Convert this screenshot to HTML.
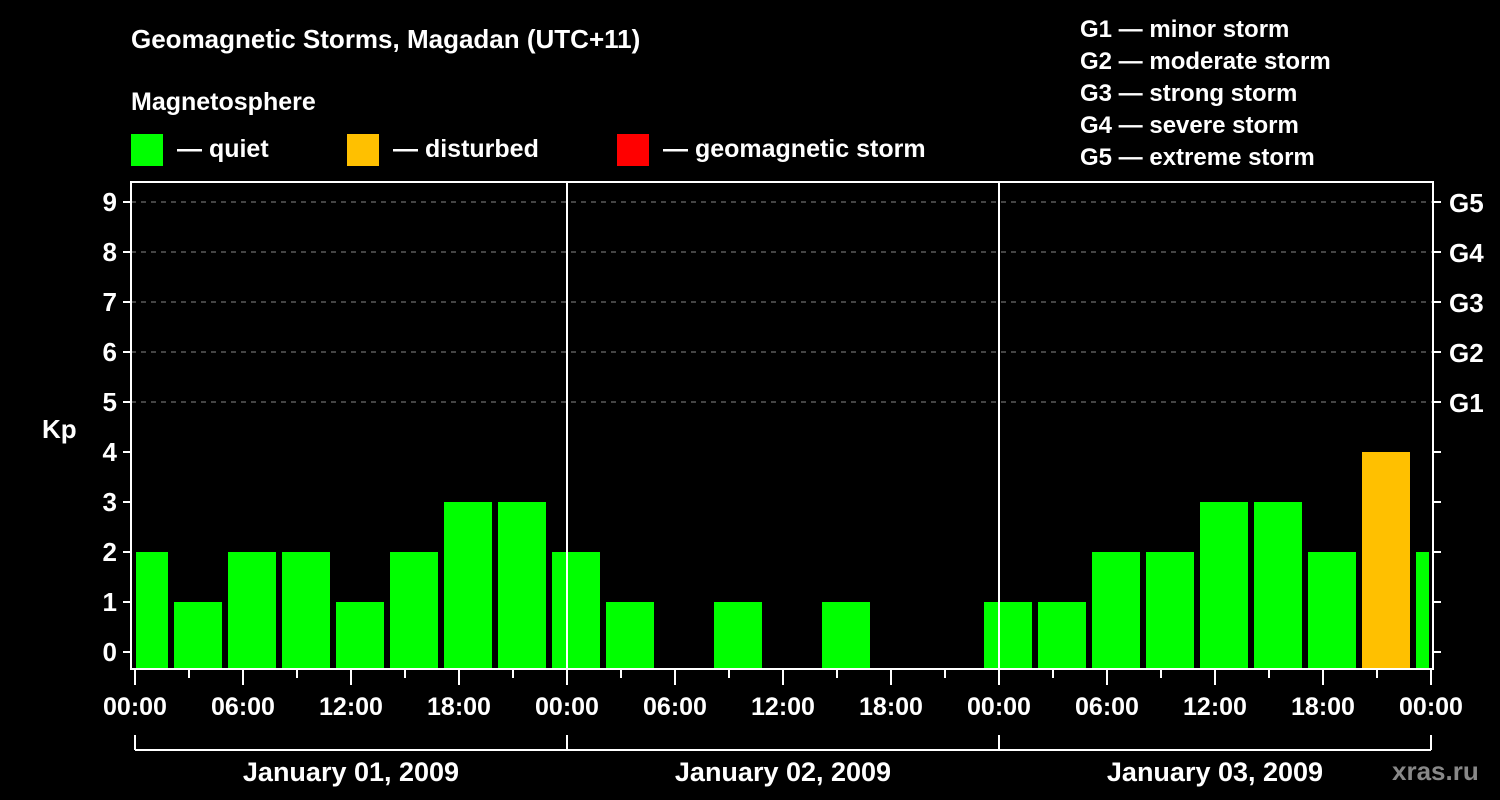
<!DOCTYPE html>
<html><head><meta charset="utf-8"><style>
body{margin:0;background:#000;}
svg{display:block;font-family:"Liberation Sans",Arial,sans-serif;font-weight:bold;fill:#fff;}
</style></head><body>
<svg id="chart" width="1500" height="800" viewBox="0 0 1500 800">
<rect width="1500" height="800" fill="#000"/>
<text x="131" y="48" font-size="26">Geomagnetic Storms, Magadan (UTC+11)</text>
<text x="131" y="110" font-size="25">Magnetosphere</text>
<g><rect x="131" y="134" width="32" height="32" fill="#00ff00"/><text x="177" y="157" font-size="25">— quiet</text></g>
<g><rect x="347" y="134" width="32" height="32" fill="#ffc000"/><text x="393" y="157" font-size="25">— disturbed</text></g>
<g><rect x="617" y="134" width="32" height="32" fill="#ff0000"/><text x="663" y="157" font-size="25">— geomagnetic storm</text></g>
<g font-size="24">
<text x="1080" y="37">G1 — minor storm</text>
<text x="1080" y="69">G2 — moderate storm</text>
<text x="1080" y="101">G3 — strong storm</text>
<text x="1080" y="133">G4 — severe storm</text>
<text x="1080" y="165">G5 — extreme storm</text>
</g>
<text x="42" y="438" font-size="26">Kp</text>
<g id="grid"></g><g id="bars"></g><g id="axes"></g>
<text x="1392" y="780" font-size="26" fill="#888" style="fill:#888">xras.ru</text>
</svg>
<script>
const kpValues=[2,1,2,2,1,2,3,3,2,1,0,1,0,1,0,0,1,1,2,2,3,3,2,4,2];
const binStartHour=-1;
const yTicks=[0,1,2,3,4,5,6,7,8,9];
const gLabels=["G1","G2","G3","G4","G5"];
const xTickLabels=["00:00","06:00","12:00","18:00","00:00","06:00","12:00","18:00","00:00","06:00","12:00","18:00","00:00"];
const dayLabels=["January 01, 2009","January 02, 2009","January 03, 2009"];
const NS="http://www.w3.org/2000/svg";
const L=131,R=1433,T=182,B=669,X0=135,PXH=18;
const xs=h=>X0+h*PXH;
const ys=v=>652-v*50;
function mk(tag,attrs,parent,text){const e=document.createElementNS(NS,tag);for(const k in attrs)e.setAttribute(k,attrs[k]);if(text!==undefined)e.textContent=text;parent.appendChild(e);return e;}
const grid=document.getElementById('grid'),bars=document.getElementById('bars'),axes=document.getElementById('axes');
yTicks.forEach(v=>{if(v>=5){const l=mk('line',{x1:L,x2:R,y1:ys(v),y2:ys(v),stroke:'#888','stroke-dasharray':'5,5','stroke-width':1},grid);

}});
kpValues.forEach((v,i)=>{if(v<=0)return;let x1=xs(binStartHour+3*i)+3,x2=x1+48;x1=Math.max(x1,L+5);x2=Math.min(x2,R-4);
const r=mk('rect',{x:x1,y:ys(v),width:x2-x1,height:668-ys(v),fill:v>=5?'#ff0000':(v>=4?'#ffc000':'#00ff00')},bars);

});
mk('rect',{x:L,y:T,width:R-L,height:B-T,fill:'none',stroke:'#fff','stroke-width':2},axes);
[1,2].forEach(d=>{const l=mk('line',{x1:xs(24*d),x2:xs(24*d),y1:T,y2:B,stroke:'#fff','stroke-width':2},axes);

});
yTicks.forEach(v=>{const y=ys(v);
mk('line',{x1:L-8,x2:L,y1:y,y2:y,stroke:'#fff','stroke-width':2},axes);
mk('line',{x1:R,x2:R+8,y1:y,y2:y,stroke:'#fff','stroke-width':2},axes);
const t=mk('text',{x:L-14,y:y+9,'font-size':26,'text-anchor':'end'},axes,String(v));


if(v>=5){const g=mk('text',{x:R+16,y:y+10,'font-size':26},axes,gLabels[v-5]);

}});
for(let h=0;h<=72;h+=3){const major=h%6===0;mk('line',{x1:xs(h),x2:xs(h),y1:B,y2:B+(major?16:9),stroke:'#fff','stroke-width':2},axes);}
xTickLabels.forEach((s,i)=>{const t=mk('text',{x:xs(i*6),y:715,'font-size':25,'text-anchor':'middle'},axes,s);

});
mk('line',{x1:xs(0),x2:xs(72),y1:750,y2:750,stroke:'#fff','stroke-width':2},axes);
for(let d=0;d<=3;d++)mk('line',{x1:xs(24*d),x2:xs(24*d),y1:735,y2:750,stroke:'#fff','stroke-width':2},axes);
dayLabels.forEach((s,i)=>{const t=mk('text',{x:xs(24*i+12),y:781,'font-size':27,'text-anchor':'middle'},axes,s);

});
</script>
</body></html>
